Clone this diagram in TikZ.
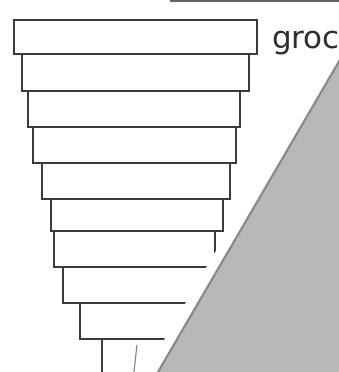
\documentclass[tikz,border=0pt]{standalone}
\usepackage{fontspec}
\usepackage{tikz}
\usetikzlibrary{fit}
\newfontfamily\tierfont{DejaVu Sans}
\definecolor{TierInk}{HTML}{3A3A3A}
\definecolor{CurlGray}{HTML}{B8B8B8}
\definecolor{CurlEdge}{HTML}{8A8A8A}

\begin{document}
\begin{tikzpicture}[x=1pt, y=-1pt,
    tier/.style={draw=TierInk, line width=1.8pt, fill=white, inner sep=0pt},
    note/.style={font=\tierfont\fontsize{31}{32}\selectfont, text=TierInk!80!black,
      inner sep=0pt, anchor=base west}
  ]
  \useasboundingbox (0,0) rectangle (339,372);
  \clip (0,0) rectangle (339,372);
  % edge of the box above
  \coordinate (boxL) at (170,1);
  \coordinate (boxR) at (345,1);
  \draw[TierInk!80, line width=1.5pt] (boxL) -- (boxR);
  % stacked tiers
  \foreach \n/\l/\t/\r/\b in {1/14/20/257/54, 2/22/54/249/91, 3/28/91/240/127,
      4/33/127/236/163, 5/42/163/230/199, 6/51/199/223/231, 7/54/231/215/267,
      8/63/267/207/303, 9/80/303/190/339, 10/102/339/168/390}
    \node[tier, fit={(\l,\t) (\r,\b)}] (tier\n) {};
  \draw[TierInk!60, line width=1.2pt] (137,345) -- (133,380);
  \node[note] (groc) at (272,48) {groc};
  % folded corner
  \coordinate (curlTop) at (341,58);
  \coordinate (curlBot) at (158,372);
  \draw[white, line width=22pt] (curlTop) -- (curlBot);
  \fill[CurlGray] (curlTop) -- (curlBot) -- (350,372) -- (350,58) -- cycle;
  \draw[CurlEdge, line width=2.2pt] (curlTop) -- (curlBot);
\end{tikzpicture}
\end{document}
